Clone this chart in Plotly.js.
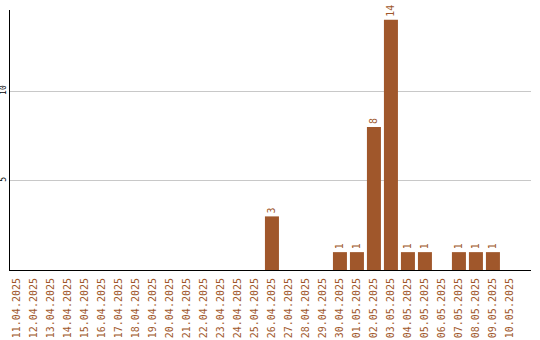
<!DOCTYPE html>
<html>
<head>
<meta charset="utf-8">
<script src="https://cdn.plot.ly/plotly-3.0.1.min.js"></script>
<style>html,body{margin:0;padding:0;background:#fff}#chart{width:540px;height:340px}</style>
</head>
<body>
<div id="chart"></div>
<script>
const dates = ["11.04.2025","12.04.2025","13.04.2025","14.04.2025","15.04.2025","16.04.2025","17.04.2025","18.04.2025","19.04.2025","20.04.2025","21.04.2025","22.04.2025","23.04.2025","24.04.2025","25.04.2025","26.04.2025","27.04.2025","28.04.2025","29.04.2025","30.04.2025","01.05.2025","02.05.2025","03.05.2025","04.05.2025","05.05.2025","06.05.2025","07.05.2025","08.05.2025","09.05.2025","10.05.2025"];
const counts = [0,0,0,0,0,0,0,0,0,0,0,0,0,0,0,3,0,0,0,1,1,8,14,1,1,0,1,1,1,0];
const yTicks = [5,10];

const brown = "#A0572B";
const trace = {
  type: "bar",
  x: dates,
  y: counts,
  text: counts.map(v => v > 0 ? String(v) : ""),
  textposition: "outside",
  textangle: -90,
  cliponaxis: false,
  textfont: {family: "DejaVu Sans Mono, monospace", size: 10, color: brown},
  marker: {color: brown},
  hoverinfo: "none"
};
const layout = {
  width: 540, height: 340,
  margin: {l: 10, r: 9, t: 10, b: 70, pad: 0},
  paper_bgcolor: "#fff", plot_bgcolor: "#fff",
  showlegend: false,
  bargap: 0.176,
  font: {family: "DejaVu Sans Mono, monospace"},
  xaxis: {
    type: "category",
    range: [-0.41, 30.24],
    tickangle: -90,
    ticklabelstandoff: 3,
    tickfont: {family: "DejaVu Sans Mono, monospace", size: 10, color: brown},
    showline: true, linecolor: "#000", linewidth: 1,
    showgrid: false, ticks: "", zeroline: false,
    automargin: false
  },
  yaxis: {
    range: [0, 14.55],
    tickvals: yTicks,
    ticktext: yTicks.map(String),
    tickangle: -90,
    tickfont: {family: "DejaVu Sans Mono, monospace", size: 8, color: "#000"},
    showline: true, linecolor: "#000", linewidth: 1,
    showgrid: true, gridcolor: "#c8c8c8", gridwidth: 1,
    zeroline: false, ticks: "",
    automargin: false
  }
};
Plotly.newPlot("chart", [trace], layout, {displayModeBar: false, staticPlot: true});
</script>
</body>
</html>
